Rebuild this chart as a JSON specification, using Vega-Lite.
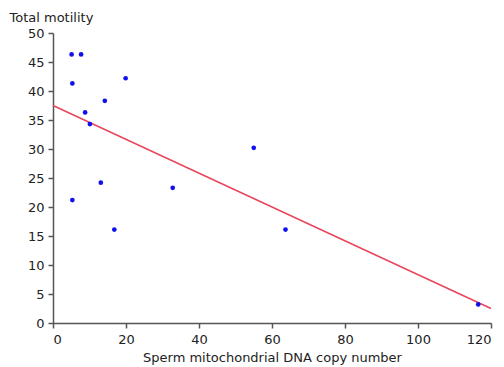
{
  "$schema": "https://vega.github.io/schema/vega-lite/v6.json",
  "width": 438,
  "height": 290,
  "autosize": {"type": "none"},
  "padding": {"left": 53, "top": 33, "right": 13, "bottom": 44},
  "background": "white",
  "config": {
    "view": {"stroke": null},
    "font": "DejaVu Sans",
    "axis": {
      "grid": false,
      "domainColor": "#555555",
      "domainWidth": 1.5,
      "tickColor": "#555555",
      "tickWidth": 1.5,
      "tickSize": 5,
      "labelFont": "DejaVu Sans",
      "labelFontSize": 13,
      "labelColor": "#222222",
      "labelOverlap": false,
      "titleFont": "DejaVu Sans",
      "titleFontSize": 13,
      "titleFontWeight": "normal",
      "titleColor": "#222222"
    }
  },
  "datasets": {
    "pts": [
      {"copy": 5.1, "motility": 46.3},
      {"copy": 7.7, "motility": 46.3},
      {"copy": 5.3, "motility": 41.3},
      {"copy": 19.9, "motility": 42.2},
      {"copy": 14.2, "motility": 38.3},
      {"copy": 8.8, "motility": 36.3},
      {"copy": 10.1, "motility": 34.3},
      {"copy": 13.1, "motility": 24.2},
      {"copy": 5.3, "motility": 21.2},
      {"copy": 16.8, "motility": 16.1},
      {"copy": 32.8, "motility": 23.3},
      {"copy": 55.0, "motility": 30.2},
      {"copy": 63.7, "motility": 16.1},
      {"copy": 116.5, "motility": 3.2}
    ],
    "fit": [
      {"copy": 0, "motility": 37.5},
      {"copy": 120, "motility": 2.5}
    ]
  },
  "encoding": {
    "x": {
      "field": "copy",
      "type": "quantitative",
      "scale": {"domain": [0, 120], "nice": false},
      "axis": {"values": [0, 20, 40, 60, 80, 100, 120], "labelOverlap": false, "title": "Sperm mitochondrial DNA copy number", "titlePadding": 5, "labelPadding": 5}
    },
    "y": {
      "field": "motility",
      "type": "quantitative",
      "scale": {"domain": [0, 50], "nice": false},
      "axis": {
        "values": [0, 5, 10, 15, 20, 25, 30, 35, 40, 45, 50],
        "labelOverlap": false,
        "title": "Total motility",
        "titleAngle": 0,
        "titleAlign": "left",
        "titleBaseline": "middle",
        "titleX": -44,
        "titleY": -16,
        "labelPadding": 4
      }
    }
  },
  "layer": [
    {
      "data": {"name": "fit"},
      "mark": {"type": "line", "color": "#e8455a", "strokeWidth": 1.5}
    },
    {
      "data": {"name": "pts"},
      "mark": {"type": "circle", "color": "#1010ee", "size": 22, "opacity": 1}
    }
  ]
}
